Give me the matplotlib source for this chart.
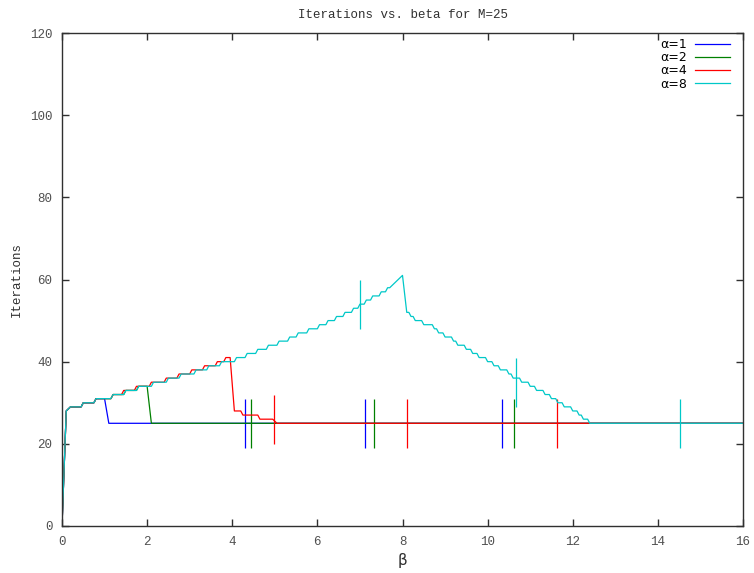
import numpy as np
import matplotlib.pyplot as plt

# flat steps: (beta start, beta end, iterations)
steps_a1 = [(0, 0, 0), (0.1, 0.1, 28), (0.2, 0.45, 29), (0.5, 0.75, 30), (0.8, 1.0, 31),
            (1.1, 16, 25)]

steps_a2 = [(0, 0, 0), (0.1, 0.1, 28), (0.2, 0.45, 29), (0.5, 0.75, 30), (0.8, 1.15, 31),
            (1.2, 1.45, 32), (1.5, 1.75, 33), (1.8, 2.0, 34), (2.1, 16, 25)]

steps_a4 = [(0, 0, 0), (0.1, 0.1, 28), (0.2, 0.45, 29), (0.5, 0.75, 30), (0.8, 1.15, 31),
            (1.2, 1.4, 32), (1.45, 1.7, 33), (1.75, 2.05, 34), (2.1, 2.4, 35),
            (2.45, 2.7, 36), (2.75, 3.0, 37), (3.05, 3.3, 38), (3.35, 3.6, 39),
            (3.65, 3.8, 40), (3.85, 3.95, 41), (4.05, 4.2, 28), (4.25, 4.6, 27),
            (4.65, 4.95, 26), (5.05, 16, 25)]

steps_a8 = [(0, 0, 0), (0.1, 0.1, 28), (0.2, 0.45, 29), (0.5, 0.75, 30), (0.8, 1.15, 31),
            (1.2, 1.45, 32), (1.5, 1.75, 33), (1.8, 2.1, 34), (2.15, 2.45, 35),
            (2.5, 2.75, 36), (2.8, 3.1, 37), (3.15, 3.4, 38), (3.45, 3.7, 39),
            (3.75, 4.05, 40), (4.1, 4.3, 41), (4.35, 4.55, 42), (4.6, 4.8, 43),
            (4.85, 5.05, 44), (5.1, 5.3, 45), (5.35, 5.5, 46), (5.55, 5.75, 47),
            (5.8, 6.0, 48), (6.05, 6.2, 49), (6.25, 6.4, 50), (6.45, 6.6, 51),
            (6.65, 6.8, 52), (6.85, 6.95, 53), (7.0, 7.1, 54), (7.15, 7.25, 55),
            (7.3, 7.45, 56), (7.5, 7.6, 57), (7.65, 7.7, 58), (8.0, 8.0, 61),
            (8.1, 8.15, 52), (8.2, 8.25, 51), (8.3, 8.45, 50), (8.5, 8.7, 49),
            (8.75, 8.8, 48), (8.85, 8.95, 47), (9.0, 9.15, 46), (9.2, 9.25, 45),
            (9.3, 9.45, 44), (9.5, 9.6, 43), (9.65, 9.75, 42), (9.8, 9.95, 41),
            (10.0, 10.1, 40), (10.15, 10.25, 39), (10.3, 10.45, 38), (10.5, 10.55, 37),
            (10.6, 10.75, 36), (10.8, 10.95, 35), (11.0, 11.1, 34), (11.15, 11.3, 33),
            (11.35, 11.45, 32), (11.5, 11.6, 31), (11.65, 11.75, 30), (11.8, 11.95, 29),
            (12.0, 12.1, 28), (12.15, 12.2, 27), (12.25, 12.35, 26), (12.4, 16, 25)]

# vertical marks: beta position and centre value
mark_beta_a1 = [4.3, 7.12, 10.33]
mark_iter_a1 = [25, 25, 25]
mark_beta_a2 = [4.43, 7.33, 10.62]
mark_iter_a2 = [25, 25, 25]
mark_beta_a4 = [4.97, 8.1, 11.63]
mark_iter_a4 = [26, 25, 25]
mark_beta_a8 = [7.0, 10.66, 14.52]
mark_iter_a8 = [54, 35, 25]
mark_half = 6

labels = ['\u03b1=1', '\u03b1=2', '\u03b1=4', '\u03b1=8']
colors = ['#0000ff', '#008000', '#ff0000', '#00c8c8']


def vertices(steps):
    xs, ys = [], []
    for b0, b1, v in steps:
        xs += [b0, b1]
        ys += [v, v]
    return xs, ys


fig = plt.figure(figsize=(7.54, 5.73), dpi=100)
ax = fig.add_axes([62 / 754, 1 - 526 / 573, 681 / 754, 493 / 573])

series = [(steps_a1, mark_beta_a1, mark_iter_a1),
          (steps_a2, mark_beta_a2, mark_iter_a2),
          (steps_a4, mark_beta_a4, mark_iter_a4),
          (steps_a8, mark_beta_a8, mark_iter_a8)]

for (st, mb, mi), lab, c in zip(series, labels, colors):
    b, it = vertices(st)
    ax.plot(b, it, color=c, lw=0.9, label=lab)
    mi = np.array(mi)
    ax.vlines(mb, mi - mark_half, mi + mark_half, color=c, lw=0.9)

ax.set_xlim(0, 16)
ax.set_ylim(0, 120)
ax.set_xticks(range(0, 17, 2))
ax.set_yticks(range(0, 121, 20))

mono = 'Liberation Mono'
for sp in ax.spines.values():
    sp.set_color('#303030')
    sp.set_linewidth(1.0)
ax.tick_params(direction='in', length=5, width=1, color='#303030',
               top=True, right=True, labelsize=9, labelcolor='#505050', pad=7)
for lbl in ax.get_xticklabels() + ax.get_yticklabels():
    lbl.set_family(mono)

ax.set_title('Iterations vs. beta for M=25', fontsize=9, family=mono, color='#303030', pad=11)
ax.set_ylabel('Iterations', fontsize=9, family=mono, color='#303030', labelpad=5)
ax.set_xlabel('\u03b2', fontsize=11, color='#303030', labelpad=4)

leg = ax.legend(loc='upper right', bbox_to_anchor=(0.988, 1.0), frameon=False,
                markerfirst=False, fontsize=9, handlelength=2.8, labelspacing=0.02,
                borderaxespad=0, handletextpad=0.6)

plt.savefig('out.png', dpi=100)
